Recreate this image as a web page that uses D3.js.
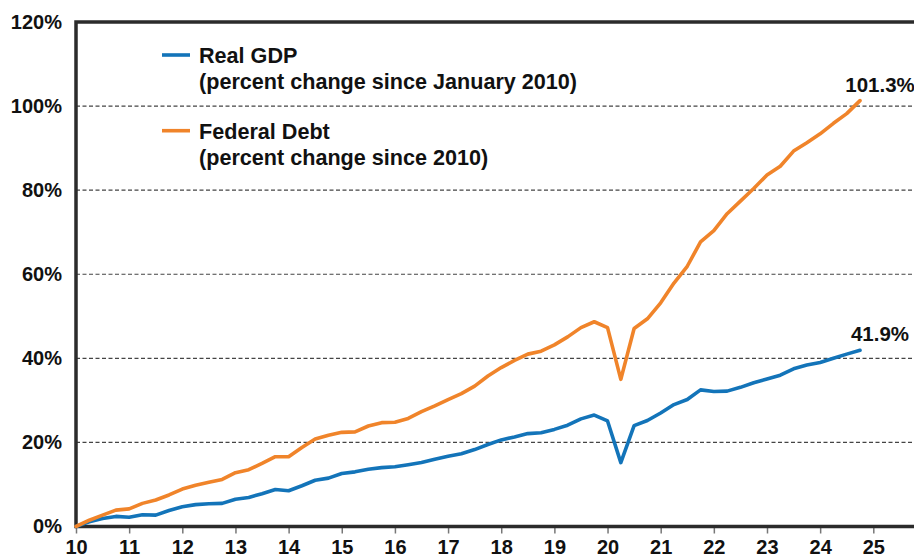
<!DOCTYPE html>
<html>
<head>
<meta charset="utf-8">
<script src="https://cdn.jsdelivr.net/npm/d3@7"></script>
<style>
  html, body { margin: 0; padding: 0; background: #fff; }
  svg { display: block; }
  text { font-family: Arial, "Liberation Sans", Helvetica, sans-serif; font-weight: bold; fill: #111; }
</style>
</head>
<body>
<svg id="chart" width="914" height="559"></svg>
<script>
// Quarterly observations, 2010 Q1 through 2024 Q4 (x = 10 + quarter/4)
const startYear = 10;
const realGDP = [
  0.0, 1.1, 1.9, 2.4, 2.2, 2.8, 2.7, 3.8, 4.7, 5.2,
  5.4, 5.5, 6.5, 6.9, 7.8, 8.8, 8.5, 9.7, 11.0, 11.5,
  12.6, 13.0, 13.6, 14.0, 14.2, 14.7, 15.2, 16.0, 16.7, 17.3,
  18.3, 19.5, 20.6, 21.3, 22.1, 22.3, 23.1, 24.1, 25.6, 26.5,
  25.1, 15.2, 24.0, 25.2, 27.0, 29.0, 30.2, 32.5, 32.1, 32.2,
  33.1, 34.2, 35.1, 36.0, 37.5, 38.4, 39.0, 40.0, 41.0, 41.9
];
const federalDebt = [
  0.0, 1.5, 2.7, 3.9, 4.2, 5.5, 6.3, 7.5, 8.9, 9.8,
  10.5, 11.2, 12.8, 13.5, 15.0, 16.6, 16.6, 18.8, 20.8, 21.7,
  22.4, 22.5, 23.9, 24.7, 24.8, 25.7, 27.3, 28.7, 30.2, 31.6,
  33.4, 35.8, 37.8, 39.5, 41.0, 41.7, 43.2, 45.1, 47.3, 48.7,
  47.3, 35.0, 47.1, 49.4, 53.2, 57.9, 61.9, 67.7, 70.4, 74.4,
  77.4, 80.4, 83.6, 85.7, 89.3, 91.3, 93.4, 95.9, 98.2, 101.3
];
const yTicks = [0, 20, 40, 60, 80, 100, 120];
const xTicks = [10, 11, 12, 13, 14, 15, 16, 17, 18, 19, 20, 21, 22, 23, 24, 25];

const series = [
  { name: "Real GDP", sub: "(percent change since January 2010)", values: realGDP, color: "#1374b9" },
  { name: "Federal Debt", sub: "(percent change since 2010)", values: federalDebt, color: "#f0842a" }
];

const svg = d3.select("#chart");
const x = d3.scaleLinear().domain([10, 25]).range([76, 873.3]);
const y = d3.scaleLinear().domain([0, 120]).range([526.5, 22]);
const right = 920;

// dashed gridlines
svg.append("g")
  .selectAll("line")
  .data(yTicks.filter(d => d > 0 && d < 120))
  .join("line")
  .attr("x1", x(10)).attr("x2", right)
  .attr("y1", d => y(d)).attr("y2", d => y(d))
  .attr("stroke", "#444").attr("stroke-width", 1.1)
  .attr("stroke-dasharray", "4,2.5");

// y axis labels
const yAxis = d3.axisLeft(y).tickValues(yTicks).tickFormat(d => d + "%").tickSize(0).tickPadding(14);
const gy = svg.append("g").attr("transform", `translate(${x(10)},0)`).call(yAxis);
gy.select(".domain").remove();
gy.selectAll("text").attr("font-size", 20).attr("font-family", null).attr("fill", "#111");

// x axis
const xAxis = d3.axisBottom(x).tickValues(xTicks).tickFormat(d3.format("d")).tickSize(7).tickPadding(6);
const gx = svg.append("g").attr("transform", `translate(0,${y(0)})`).call(xAxis);
gx.select(".domain").remove();
gx.selectAll(".tick line").attr("stroke", "#777").attr("stroke-width", 1.5);
gx.selectAll("text").attr("font-size", 20).attr("font-family", null).attr("fill", "#111");

// frame: top, left and bottom
svg.append("path")
  .attr("d", `M${right},${y(120)} L${x(10)},${y(120)} L${x(10)},${y(0)} L${right},${y(0)}`)
  .attr("fill", "none").attr("stroke", "#2b2b2b").attr("stroke-width", 3.5);

// lines
const line = d3.line()
  .x((d, i) => x(startYear + i / 4))
  .y(d => y(d));

svg.append("g")
  .selectAll("path")
  .data(series)
  .join("path")
  .attr("d", d => line(d.values))
  .attr("fill", "none")
  .attr("stroke", d => d.color)
  .attr("stroke-width", 3.6)
  .attr("stroke-linejoin", "round")
  .attr("stroke-linecap", "round");

// end-of-series value labels
svg.append("g")
  .selectAll("text")
  .data(series)
  .join("text")
  .attr("x", d => x(startYear + (d.values.length - 1) / 4) + 20)
  .attr("y", d => y(d.values[d.values.length - 1]) - 9)
  .attr("text-anchor", "middle")
  .attr("font-size", 20.5)
  .text(d => d3.format(".1f")(d.values[d.values.length - 1]) + "%");

// legend
const legendTop = [55, 130.7];
const lg = svg.append("g")
  .selectAll("g")
  .data(series)
  .join("g")
  .attr("transform", (d, i) => `translate(162,${legendTop[i]})`);
lg.append("line")
  .attr("x1", 0).attr("x2", 28)
  .attr("stroke", d => d.color).attr("stroke-width", 3.6);
lg.append("text")
  .attr("x", 37).attr("y", 8)
  .attr("font-size", 21.6)
  .text(d => d.name);
lg.append("text")
  .attr("x", 37).attr("y", 34)
  .attr("font-size", 21.6)
  .text(d => d.sub);
</script>
</body>
</html>
